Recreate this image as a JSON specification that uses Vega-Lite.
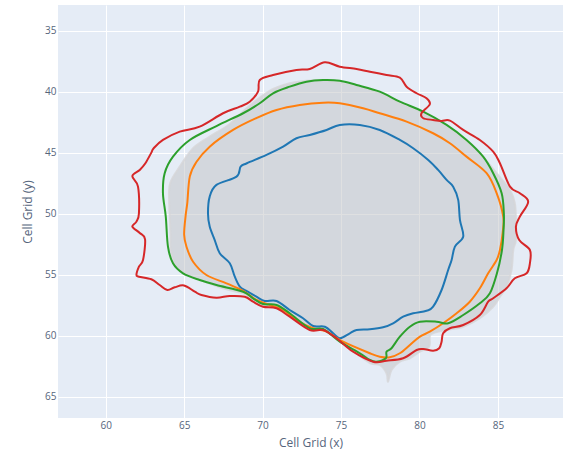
{
"$schema": "https://vega.github.io/schema/vega-lite/v6.json",
"width": 505, "height": 413,
"autosize": {"type": "none"},
"padding": {"left": 58, "top": 5, "right": 0, "bottom": 34},
"background": "white",
"config": {
  "view": {"fill": "#E5ECF6", "stroke": null},
  "axis": {"grid": true, "gridColor": "white", "gridWidth": 1, "domain": false, "ticks": false,
    "labelColor": "#56657c", "labelFont": "Open Sans", "labelFontSize": 10,
    "titleFont": "Open Sans", "titleFontSize": 12, "titleFontWeight": "normal", "titleColor": "#56657c"}
},
"datasets": {
"area": [
{"i":0,"x":73.86,"y":39.06},{"i":1,"x":75.99,"y":39.51},{"i":2,"x":77.47,"y":40.09},{"i":3,"x":78.75,"y":40.91},{"i":4,"x":80.24,"y":41.73},{"i":5,"x":81.73,"y":42.83},{"i":6,"x":83.0,"y":44.06},{"i":7,"x":83.85,"y":45.03},{"i":8,"x":84.92,"y":46.67},{"i":9,"x":85.77,"y":48.04},{"i":10,"x":86.08,"y":49.13},{"i":11,"x":86.15,"y":50.5},{"i":12,"x":86.15,"y":52.15},{"i":13,"x":85.98,"y":52.97},{"i":14,"x":85.87,"y":54.61},{"i":15,"x":85.55,"y":55.98},{"i":16,"x":85.13,"y":56.8},{"i":17,"x":84.7,"y":57.62},{"i":18,"x":83.85,"y":58.57},{"i":19,"x":82.79,"y":59.26},{"i":20,"x":81.73,"y":59.53},{"i":21,"x":80.87,"y":59.8},{"i":22,"x":80.66,"y":60.08},{"i":23,"x":80.62,"y":60.9},{"i":24,"x":80.03,"y":61.31},{"i":25,"x":79.39,"y":61.85},{"i":26,"x":78.75,"y":62.13},{"i":27,"x":78.22,"y":62.81},{"i":28,"x":78.0,"y":63.77},{"i":29,"x":77.9,"y":63.08},{"i":30,"x":77.47,"y":62.4},{"i":31,"x":76.84,"y":62.24},{"i":32,"x":75.77,"y":61.25},{"i":33,"x":74.71,"y":60.18},{"i":34,"x":73.86,"y":59.53},{"i":35,"x":73.01,"y":59.49},{"i":36,"x":71.73,"y":58.34},{"i":37,"x":70.89,"y":57.64},{"i":38,"x":70.03,"y":57.52},{"i":39,"x":69.39,"y":57.11},{"i":40,"x":68.76,"y":56.53},{"i":41,"x":67.7,"y":56.2},{"i":42,"x":66.21,"y":55.51},{"i":43,"x":65.15,"y":54.93},{"i":44,"x":64.51,"y":54.28},{"i":45,"x":64.15,"y":52.97},{"i":46,"x":64.13,"y":51.6},{"i":47,"x":64.04,"y":48.86},{"i":48,"x":64.11,"y":47.47},{"i":49,"x":64.72,"y":46.13},{"i":50,"x":65.57,"y":44.62},{"i":51,"x":66.63,"y":43.67},{"i":52,"x":67.91,"y":42.63},{"i":53,"x":69.18,"y":41.11},{"i":54,"x":70.67,"y":39.76},{"i":55,"x":72.16,"y":39.18}
],
"lines": [
{"s":"blue","i":0,"x":74.92,"y":42.71},{"s":"blue","i":1,"x":76.2,"y":42.71},{"s":"blue","i":2,"x":77.47,"y":43.12},{"s":"blue","i":3,"x":78.75,"y":43.94},{"s":"blue","i":4,"x":79.6,"y":44.62},{"s":"blue","i":5,"x":80.56,"y":45.58},{"s":"blue","i":6,"x":81.19,"y":46.4},{"s":"blue","i":7,"x":81.73,"y":47.22},{"s":"blue","i":8,"x":82.15,"y":47.77},{"s":"blue","i":9,"x":82.47,"y":48.86},{"s":"blue","i":10,"x":82.58,"y":50.5},{"s":"blue","i":11,"x":82.79,"y":51.87},{"s":"blue","i":12,"x":82.26,"y":52.69},{"s":"blue","i":13,"x":82.05,"y":53.79},{"s":"blue","i":14,"x":81.83,"y":54.61},{"s":"blue","i":15,"x":81.41,"y":56.25},{"s":"blue","i":16,"x":80.87,"y":57.62},{"s":"blue","i":17,"x":80.45,"y":57.95},{"s":"blue","i":18,"x":79.6,"y":58.16},{"s":"blue","i":19,"x":78.96,"y":58.44},{"s":"blue","i":20,"x":78.32,"y":58.98},{"s":"blue","i":21,"x":77.68,"y":59.31},{"s":"blue","i":22,"x":76.84,"y":59.47},{"s":"blue","i":23,"x":75.99,"y":59.53},{"s":"blue","i":24,"x":75.56,"y":59.8},{"s":"blue","i":25,"x":74.92,"y":60.21},{"s":"blue","i":26,"x":74.5,"y":59.8},{"s":"blue","i":27,"x":73.97,"y":59.26},{"s":"blue","i":28,"x":73.22,"y":59.2},{"s":"blue","i":29,"x":72.58,"y":58.57},{"s":"blue","i":30,"x":71.73,"y":57.89},{"s":"blue","i":31,"x":70.89,"y":57.15},{"s":"blue","i":32,"x":70.14,"y":57.15},{"s":"blue","i":33,"x":69.61,"y":56.8},{"s":"blue","i":34,"x":68.97,"y":56.33},{"s":"blue","i":35,"x":68.55,"y":55.98},{"s":"blue","i":36,"x":68.23,"y":55.16},{"s":"blue","i":37,"x":67.91,"y":54.06},{"s":"blue","i":38,"x":67.27,"y":53.24},{"s":"blue","i":39,"x":66.95,"y":52.15},{"s":"blue","i":40,"x":66.63,"y":51.05},{"s":"blue","i":41,"x":66.52,"y":49.95},{"s":"blue","i":42,"x":66.63,"y":48.59},{"s":"blue","i":43,"x":67.06,"y":47.63},{"s":"blue","i":44,"x":68.34,"y":46.95},{"s":"blue","i":45,"x":68.6,"y":46.13},{"s":"blue","i":46,"x":69.0,"y":45.85},{"s":"blue","i":47,"x":70.25,"y":45.17},{"s":"blue","i":48,"x":71.31,"y":44.49},{"s":"blue","i":49,"x":72.16,"y":43.8},{"s":"blue","i":50,"x":73.01,"y":43.53},{"s":"blue","i":51,"x":74.08,"y":43.12},
{"s":"orange","i":0,"x":73.86,"y":40.88},{"s":"orange","i":1,"x":74.92,"y":40.93},{"s":"orange","i":2,"x":76.41,"y":41.34},{"s":"orange","i":3,"x":77.47,"y":41.75},{"s":"orange","i":4,"x":79.18,"y":42.44},{"s":"orange","i":5,"x":80.87,"y":43.39},{"s":"orange","i":6,"x":81.94,"y":44.21},{"s":"orange","i":7,"x":83.0,"y":45.31},{"s":"orange","i":8,"x":84.28,"y":46.67},{"s":"orange","i":9,"x":84.92,"y":48.31},{"s":"orange","i":10,"x":85.34,"y":50.23},{"s":"orange","i":11,"x":85.31,"y":51.49},{"s":"orange","i":12,"x":85.13,"y":52.97},{"s":"orange","i":13,"x":84.92,"y":53.79},{"s":"orange","i":14,"x":84.38,"y":54.88},{"s":"orange","i":15,"x":83.85,"y":56.11},{"s":"orange","i":16,"x":83.21,"y":57.21},{"s":"orange","i":17,"x":82.37,"y":58.16},{"s":"orange","i":18,"x":81.51,"y":58.98},{"s":"orange","i":19,"x":80.66,"y":59.67},{"s":"orange","i":20,"x":80.03,"y":60.08},{"s":"orange","i":21,"x":79.39,"y":60.76},{"s":"orange","i":22,"x":78.75,"y":61.44},{"s":"orange","i":23,"x":78.11,"y":61.77},{"s":"orange","i":24,"x":77.47,"y":61.72},{"s":"orange","i":25,"x":76.84,"y":61.44},{"s":"orange","i":26,"x":75.13,"y":60.49},{"s":"orange","i":27,"x":74.08,"y":59.67},{"s":"orange","i":28,"x":73.22,"y":59.39},{"s":"orange","i":29,"x":72.16,"y":58.71},{"s":"orange","i":30,"x":71.31,"y":57.89},{"s":"orange","i":31,"x":70.46,"y":57.48},{"s":"orange","i":32,"x":69.61,"y":57.07},{"s":"orange","i":33,"x":68.76,"y":56.33},{"s":"orange","i":34,"x":67.7,"y":55.7},{"s":"orange","i":35,"x":66.42,"y":55.02},{"s":"orange","i":36,"x":65.57,"y":53.93},{"s":"orange","i":37,"x":65.15,"y":52.7},{"s":"orange","i":38,"x":65.0,"y":51.7},{"s":"orange","i":39,"x":65.1,"y":50.09},{"s":"orange","i":40,"x":65.2,"y":49.13},{"s":"orange","i":41,"x":65.36,"y":46.95},{"s":"orange","i":42,"x":65.78,"y":45.75},{"s":"orange","i":43,"x":66.63,"y":44.49},{"s":"orange","i":44,"x":68.12,"y":43.12},{"s":"orange","i":45,"x":69.6,"y":42.15},{"s":"orange","i":46,"x":70.89,"y":41.48},{"s":"orange","i":47,"x":72.37,"y":41.07},
{"s":"green","i":0,"x":73.86,"y":39.02},{"s":"green","i":1,"x":74.92,"y":39.08},{"s":"green","i":2,"x":75.99,"y":39.43},{"s":"green","i":3,"x":77.47,"y":39.98},{"s":"green","i":4,"x":78.75,"y":40.8},{"s":"green","i":5,"x":80.24,"y":41.62},{"s":"green","i":6,"x":81.73,"y":42.71},{"s":"green","i":7,"x":83.0,"y":43.94},{"s":"green","i":8,"x":84.06,"y":45.31},{"s":"green","i":9,"x":84.7,"y":46.67},{"s":"green","i":10,"x":85.24,"y":48.31},{"s":"green","i":11,"x":85.38,"y":49.95},{"s":"green","i":12,"x":85.36,"y":51.32},{"s":"green","i":13,"x":85.26,"y":52.97},{"s":"green","i":14,"x":84.94,"y":54.88},{"s":"green","i":15,"x":84.49,"y":56.52},{"s":"green","i":16,"x":83.85,"y":57.34},{"s":"green","i":17,"x":82.79,"y":58.3},{"s":"green","i":18,"x":81.83,"y":58.98},{"s":"green","i":19,"x":81.09,"y":58.85},{"s":"green","i":20,"x":80.03,"y":58.85},{"s":"green","i":21,"x":79.39,"y":59.26},{"s":"green","i":22,"x":78.75,"y":60.08},{"s":"green","i":23,"x":78.22,"y":61.03},{"s":"green","i":24,"x":77.9,"y":61.31},{"s":"green","i":25,"x":77.86,"y":61.85},{"s":"green","i":26,"x":77.26,"y":62.13},{"s":"green","i":27,"x":76.84,"y":61.99},{"s":"green","i":28,"x":76.2,"y":61.44},{"s":"green","i":29,"x":74.92,"y":60.49},{"s":"green","i":30,"x":73.86,"y":59.45},{"s":"green","i":31,"x":73.01,"y":59.39},{"s":"green","i":32,"x":71.73,"y":58.16},{"s":"green","i":33,"x":70.89,"y":57.48},{"s":"green","i":34,"x":70.03,"y":57.4},{"s":"green","i":35,"x":69.39,"y":56.93},{"s":"green","i":36,"x":68.76,"y":56.39},{"s":"green","i":37,"x":67.06,"y":55.84},{"s":"green","i":38,"x":65.99,"y":55.43},{"s":"green","i":39,"x":64.93,"y":54.88},{"s":"green","i":40,"x":64.29,"y":54.06},{"s":"green","i":41,"x":63.97,"y":52.69},{"s":"green","i":42,"x":63.83,"y":50.23},{"s":"green","i":43,"x":63.65,"y":48.31},{"s":"green","i":44,"x":63.76,"y":46.67},{"s":"green","i":45,"x":64.29,"y":45.31},{"s":"green","i":46,"x":65.36,"y":43.94},{"s":"green","i":47,"x":67.06,"y":42.8},{"s":"green","i":48,"x":68.76,"y":41.75},{"s":"green","i":49,"x":69.82,"y":40.93},{"s":"green","i":50,"x":70.67,"y":40.11},{"s":"green","i":51,"x":71.73,"y":39.57},{"s":"green","i":52,"x":72.8,"y":39.16},
{"s":"red","i":0,"x":61.7,"y":46.9},{"s":"red","i":1,"x":62.17,"y":46.4},{"s":"red","i":2,"x":62.53,"y":45.85},{"s":"red","i":3,"x":62.91,"y":44.98},{"s":"red","i":4,"x":63.06,"y":44.62},{"s":"red","i":5,"x":63.65,"y":43.94},{"s":"red","i":6,"x":64.72,"y":43.26},{"s":"red","i":7,"x":65.99,"y":42.85},{"s":"red","i":8,"x":67.48,"y":41.75},{"s":"red","i":9,"x":68.55,"y":41.21},{"s":"red","i":10,"x":69.18,"y":40.8},{"s":"red","i":11,"x":69.71,"y":39.98},{"s":"red","i":12,"x":69.82,"y":39.02},{"s":"red","i":13,"x":70.67,"y":38.61},{"s":"red","i":14,"x":72.16,"y":38.2},{"s":"red","i":15,"x":73.01,"y":38.12},{"s":"red","i":16,"x":73.97,"y":37.57},{"s":"red","i":17,"x":74.92,"y":37.93},{"s":"red","i":18,"x":75.99,"y":38.12},{"s":"red","i":19,"x":76.84,"y":38.34},{"s":"red","i":20,"x":77.9,"y":38.61},{"s":"red","i":21,"x":78.75,"y":38.83},{"s":"red","i":22,"x":79.18,"y":39.57},{"s":"red","i":23,"x":79.82,"y":40.11},{"s":"red","i":24,"x":80.45,"y":40.52},{"s":"red","i":25,"x":80.66,"y":41.01},{"s":"red","i":26,"x":80.13,"y":41.75},{"s":"red","i":27,"x":80.24,"y":42.16},{"s":"red","i":28,"x":80.87,"y":42.3},{"s":"red","i":29,"x":81.4,"y":42.38},{"s":"red","i":30,"x":81.94,"y":42.35},{"s":"red","i":31,"x":82.79,"y":43.12},{"s":"red","i":32,"x":83.85,"y":43.94},{"s":"red","i":33,"x":84.7,"y":44.9},{"s":"red","i":34,"x":85.13,"y":45.85},{"s":"red","i":35,"x":85.77,"y":47.77},{"s":"red","i":36,"x":86.4,"y":48.31},{"s":"red","i":37,"x":86.93,"y":49.0},{"s":"red","i":38,"x":86.4,"y":50.23},{"s":"red","i":39,"x":86.15,"y":51.05},{"s":"red","i":40,"x":86.36,"y":52.15},{"s":"red","i":41,"x":87.04,"y":52.97},{"s":"red","i":42,"x":87.04,"y":54.06},{"s":"red","i":43,"x":86.83,"y":54.88},{"s":"red","i":44,"x":86.08,"y":55.29},{"s":"red","i":45,"x":85.55,"y":56.11},{"s":"red","i":46,"x":84.7,"y":56.93},{"s":"red","i":47,"x":84.38,"y":57.21},{"s":"red","i":48,"x":83.85,"y":58.3},{"s":"red","i":49,"x":82.79,"y":59.12},{"s":"red","i":50,"x":81.94,"y":59.39},{"s":"red","i":51,"x":81.51,"y":59.8},{"s":"red","i":52,"x":81.41,"y":60.49},{"s":"red","i":53,"x":81.26,"y":61.03},{"s":"red","i":54,"x":80.87,"y":61.23},{"s":"red","i":55,"x":80.24,"y":61.09},{"s":"red","i":56,"x":79.82,"y":61.17},{"s":"red","i":57,"x":78.96,"y":61.85},{"s":"red","i":58,"x":77.9,"y":62.05},{"s":"red","i":59,"x":77.05,"y":62.13},{"s":"red","i":60,"x":75.77,"y":61.31},{"s":"red","i":61,"x":74.71,"y":60.21},{"s":"red","i":62,"x":73.86,"y":59.53},{"s":"red","i":63,"x":73.01,"y":59.53},{"s":"red","i":64,"x":71.73,"y":58.44},{"s":"red","i":65,"x":70.89,"y":57.75},{"s":"red","i":66,"x":70.03,"y":57.62},{"s":"red","i":67,"x":69.39,"y":57.21},{"s":"red","i":68,"x":68.86,"y":56.8},{"s":"red","i":69,"x":67.91,"y":56.74},{"s":"red","i":70,"x":67.06,"y":56.88},{"s":"red","i":71,"x":66.1,"y":56.66},{"s":"red","i":72,"x":65.68,"y":56.39},{"s":"red","i":73,"x":64.99,"y":55.88},{"s":"red","i":74,"x":64.4,"y":56.03},{"s":"red","i":75,"x":63.93,"y":56.25},{"s":"red","i":76,"x":63.44,"y":55.84},{"s":"red","i":77,"x":62.91,"y":55.37},{"s":"red","i":78,"x":62.12,"y":55.16},{"s":"red","i":79,"x":61.96,"y":55.02},{"s":"red","i":80,"x":62.12,"y":54.34},{"s":"red","i":81,"x":62.38,"y":53.79},{"s":"red","i":82,"x":62.51,"y":52.09},{"s":"red","i":83,"x":62.17,"y":51.57},{"s":"red","i":84,"x":61.7,"y":51.05},{"s":"red","i":85,"x":61.96,"y":50.64},{"s":"red","i":86,"x":62.12,"y":49.95},{"s":"red","i":87,"x":62.06,"y":47.77}
]
},
"layer": [
  {"data": {"name": "area"},
   "mark": {"type": "line", "interpolate": "cardinal-closed", "fill": "#c4c6c9", "fillOpacity": 0.55, "stroke": "#d6d6d8", "strokeWidth": 2, "strokeOpacity": 0.8},
   "encoding": {
     "x": {"field": "x", "type": "quantitative", "scale": {"domain": [56.96, 89.15], "nice": false, "zero": false}, "axis": {"title": "Cell Grid (x)", "values": [60,65,70,75,80,85], "labelPadding": 2, "titlePadding": 7}},
     "y": {"field": "y", "type": "quantitative", "scale": {"domain": [32.87, 66.75], "nice": false, "zero": false, "reverse": true}, "axis": {"title": "Cell Grid (y)", "values": [35,40,45,50,55,60,65], "labelPadding": 2, "titlePadding": 10}},
     "order": {"field": "i", "type": "quantitative"}
   }},
  {"data": {"name": "lines"},
   "mark": {"type": "line", "interpolate": "cardinal-closed", "strokeWidth": 2},
   "encoding": {
     "x": {"field": "x", "type": "quantitative"},
     "y": {"field": "y", "type": "quantitative"},
     "order": {"field": "i", "type": "quantitative"},
     "color": {"field": "s", "type": "nominal", "scale": {"domain": ["blue","orange","green","red"], "range": ["#1f77b4","#ff7f0e","#2ca02c","#d62728"]}, "legend": null}
   }}
]
}
